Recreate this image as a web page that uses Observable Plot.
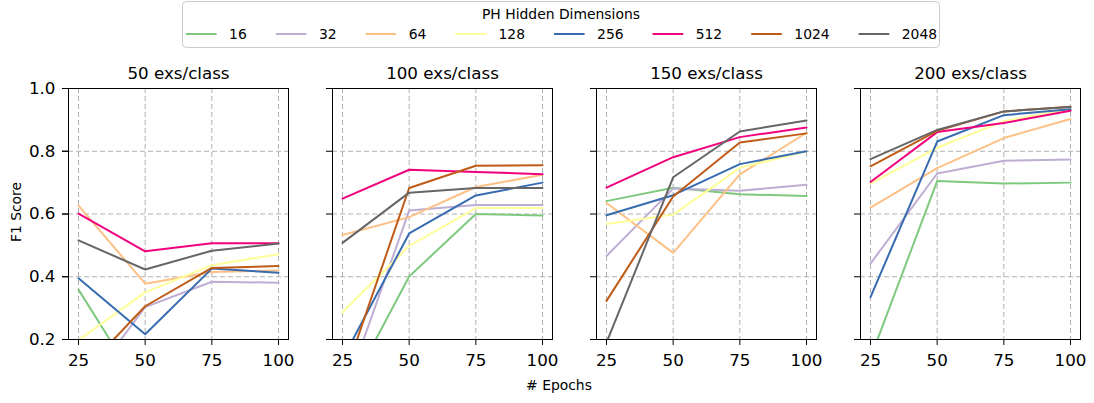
<!DOCTYPE html>
<html>
<head>
<meta charset="utf-8">
<script src="https://cdn.jsdelivr.net/npm/d3@7"></script>
<script src="https://cdn.jsdelivr.net/npm/@observablehq/plot@0.6"></script>
<style>
  body { margin: 0; background: #fff; font-family: "DejaVu Sans", sans-serif; }
  #wrap { position: relative; width: 1094px; height: 403px; overflow: hidden; }
  #legend { display: block; height: 50px; }
  #legend svg { display: block; }
  #chart svg { display: block; }
</style>
</head>
<body>
<div id="wrap">
  <div id="legend"></div>
  <div id="chart"></div>
</div>
<script>
// ---- data ----
const dims = [16, 32, 64, 128, 256, 512, 1024, 2048];
const epochs = [25, 50, 75, 100];
const panels = ["50 exs/class", "100 exs/class", "150 exs/class", "200 exs/class"];
const colors = ["#7fc97f", "#beaed4", "#fdc086", "#ffff99", "#386cb0", "#f0027f", "#bf5b17", "#666666"];
const yTicks = [0.2, 0.4, 0.6, 0.8, 1.0];

// rows: one per hidden dimension (16 ... 2048), columns: epochs 25, 50, 75, 100
const f1_50 = [
  [0.359, 0.02, 0.05, 0.08],
  [0.02, 0.303, 0.384, 0.381],
  [0.627, 0.378, 0.415, 0.420],
  [0.198, 0.350, 0.437, 0.472],
  [0.395, 0.217, 0.426, 0.413],
  [0.601, 0.481, 0.507, 0.507],
  [0.082, 0.306, 0.428, 0.434],
  [0.516, 0.423, 0.483, 0.506]
];
const f1_100 = [
  [0.0, 0.401, 0.600, 0.595],
  [0.01, 0.611, 0.629, 0.629],
  [0.533, 0.590, 0.686, 0.725],
  [0.286, 0.498, 0.619, 0.619],
  [0.138, 0.538, 0.659, 0.700],
  [0.649, 0.741, 0.734, 0.727],
  [0.065, 0.683, 0.754, 0.755],
  [0.508, 0.668, 0.683, 0.683]
];
const f1_150 = [
  [0.641, 0.684, 0.663, 0.657],
  [0.466, 0.681, 0.674, 0.693],
  [0.635, 0.476, 0.726, 0.859],
  [0.568, 0.598, 0.747, 0.800],
  [0.596, 0.660, 0.759, 0.800],
  [0.684, 0.781, 0.845, 0.876],
  [0.323, 0.656, 0.828, 0.857],
  [0.190, 0.717, 0.863, 0.898]
];
const f1_200 = [
  [0.141, 0.705, 0.697, 0.700],
  [0.442, 0.729, 0.770, 0.774],
  [0.620, 0.746, 0.842, 0.903],
  [0.697, 0.811, 0.896, 0.934],
  [0.335, 0.831, 0.915, 0.934],
  [0.702, 0.861, 0.890, 0.929],
  [0.752, 0.865, 0.927, 0.942],
  [0.775, 0.868, 0.927, 0.941]
];
const panelValues = [f1_50, f1_100, f1_150, f1_200];

const rows = [];
panels.forEach((p, pi) => {
  dims.forEach((d, di) => {
    epochs.forEach((e, ei) => {
      rows.push({panel: p, dim: d, epoch: e, f1: panelValues[pi][di][ei]});
    });
  });
});

// ---- legend ----
const FONT = "DejaVu Sans";
const lsvg = d3.select("#legend").append("svg")
  .attr("width", 1094).attr("height", 50)
  .style("font-family", FONT);
lsvg.append("rect")
  .attr("x", 182.5).attr("y", 1.5).attr("width", 757).attr("height", 46)
  .attr("rx", 4).attr("fill", "white").attr("stroke", "#cccccc").attr("stroke-width", 1);
lsvg.append("text")
  .attr("x", 561).attr("y", 13.5).attr("dominant-baseline", "central")
  .attr("text-anchor", "middle").attr("font-size", 13.9).attr("fill", "black")
  .text("PH Hidden Dimensions");
let lx = 186;
dims.forEach((d, i) => {
  lsvg.append("line")
    .attr("x1", lx).attr("x2", lx + 30.6).attr("y1", 34).attr("y2", 34)
    .attr("stroke", colors[i]).attr("stroke-width", 2);
  const t = lsvg.append("text")
    .attr("x", lx + 43.1).attr("y", 34).attr("dominant-baseline", "central")
    .attr("font-size", 13.9).attr("fill", "black").text(String(d));
  const w = t.node().getComputedTextLength();
  lx += 43.1 + w + 29;
});

// ---- chart ----
const gridStyle = {stroke: "#b0b0b0", strokeOpacity: 1, strokeDasharray: "5,3", strokeWidth: 1};
const chart = Plot.plot({
  width: 1094,
  height: 353,
  marginLeft: 67,
  marginRight: 12,
  marginTop: 38,
  marginBottom: 64,
  style: {fontFamily: FONT, background: "white", color: "black", overflow: "visible"},
  fx: {domain: panels, paddingInner: 0.165, paddingOuter: 0, axis: null, label: null},
  x: {domain: [21.25, 103.75], axis: null},
  y: {domain: [0.2, 1.0], axis: null},
  color: {type: "ordinal", domain: dims, range: colors},
  marks: [
    Plot.gridX(epochs, gridStyle),
    Plot.gridY(yTicks, gridStyle),
    Plot.lineY(rows, {fx: "panel", x: "epoch", y: "f1", z: "dim", stroke: "dim", strokeWidth: 2, clip: true}),
    Plot.frame({stroke: "black", strokeWidth: 1}),
    Plot.axisX(epochs, {tickSize: 6, tickPadding: 9, fontSize: 16.7, label: null, stroke: "black"}),
    Plot.axisY(yTicks, {facetAnchor: "left", tickSize: 6, tickPadding: 7, fontSize: 16.7, tickFormat: d3.format(".1f"), label: null, stroke: "black"}),
    Plot.axisY(yTicks, {facetAnchor: null, tickSize: 6, tickFormat: () => "", label: null, stroke: "black"}),
    Plot.axisFx({anchor: "top", tickSize: 0, tickPadding: 10, fontSize: 16.7, label: null})
  ]
});
document.getElementById("chart").appendChild(chart);

const svg = d3.select(chart);
svg.append("text")
  .attr("x", 559).attr("y", 335).attr("text-anchor", "middle").attr("dominant-baseline", "central")
  .attr("font-size", 13.9).attr("font-family", FONT).attr("fill", "black")
  .text("# Epochs");
svg.append("text")
  .attr("transform", "translate(16,162) rotate(-90)")
  .attr("text-anchor", "middle").attr("dominant-baseline", "central")
  .attr("font-size", 13.9).attr("font-family", FONT).attr("fill", "black")
  .text("F1 Score");
</script>
</body>
</html>
